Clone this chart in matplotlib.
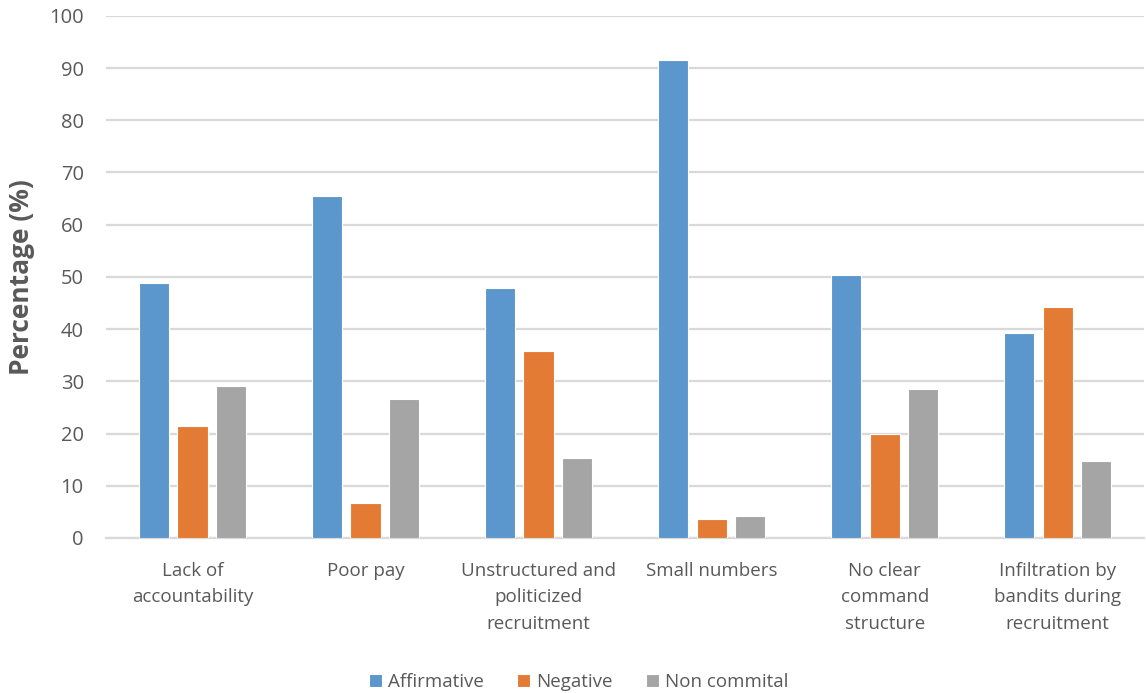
import matplotlib
matplotlib.use("Agg")
import matplotlib.pyplot as plt
import numpy as np

categories = [
    "Lack of\naccountability",
    "Poor pay",
    "Unstructured and\npoliticized\nrecruitment",
    "Small numbers",
    "No clear\ncommand\nstructure",
    "Infiltration by\nbandits during\nrecruitment",
]
affirmative = [48.9, 65.4, 47.9, 91.5, 50.3, 39.2]
negative = [21.4, 6.7, 35.8, 3.6, 19.9, 44.2]
non_commital = [29.1, 26.6, 15.4, 4.3, 28.5, 14.7]
series_names = ["Affirmative", "Negative", "Non commital"]
colors = ["#5B97CC", "#E47B35", "#A5A5A5"]
yticks = list(range(0, 101, 10))

fig = plt.figure(figsize=(11.46, 6.93), dpi=100)
ax = fig.add_axes([0.0925, 0.2237, 0.906, 0.7535])

x = np.arange(len(categories))
width = 0.175
offsets = [-0.223, 0.0, 0.223]
for vals, off, col, name in zip([affirmative, negative, non_commital], offsets, colors, series_names):
    ax.bar(x + off, vals, width, color=col, edgecolor="white", linewidth=0.8, label=name, zorder=3)

ax.set_xlim(-0.5, len(categories) - 0.5)
ax.set_ylim(0, 100)
ax.set_yticks(yticks)
ax.yaxis.grid(True, color="#D9D9D9", linewidth=1.6, zorder=0)
ax.set_axisbelow(True)
for s in ["top", "right", "left"]:
    ax.spines[s].set_visible(False)
ax.spines["bottom"].set_color("#D9D9D9")
ax.spines["bottom"].set_linewidth(1.6)
ax.tick_params(axis="y", length=0, pad=16, labelsize=14.5, labelcolor="#595959")
ax.tick_params(axis="x", length=0, pad=17, labelsize=13.5, labelcolor="#595959")
for lbl in ax.get_yticklabels():
    lbl.set_fontfamily("Open Sans")
ax.set_xticks(x)
ax.set_xticklabels(categories, fontfamily="Open Sans", linespacing=1.62)

ax.set_ylabel("Percentage (%)", fontsize=19, fontweight="bold", color="#595959",
              fontfamily="Open Sans", labelpad=10)

leg = fig.legend(loc="lower center", bbox_to_anchor=(0.505, -0.022), ncol=3, frameon=False,
                 prop={"family": "Open Sans", "size": 13.5},
                 handlelength=0.7, handleheight=0.7, handletextpad=0.3, columnspacing=1.8)
for t in leg.get_texts():
    t.set_color("#595959")

fig.savefig("out.png", dpi=100, facecolor="white")
